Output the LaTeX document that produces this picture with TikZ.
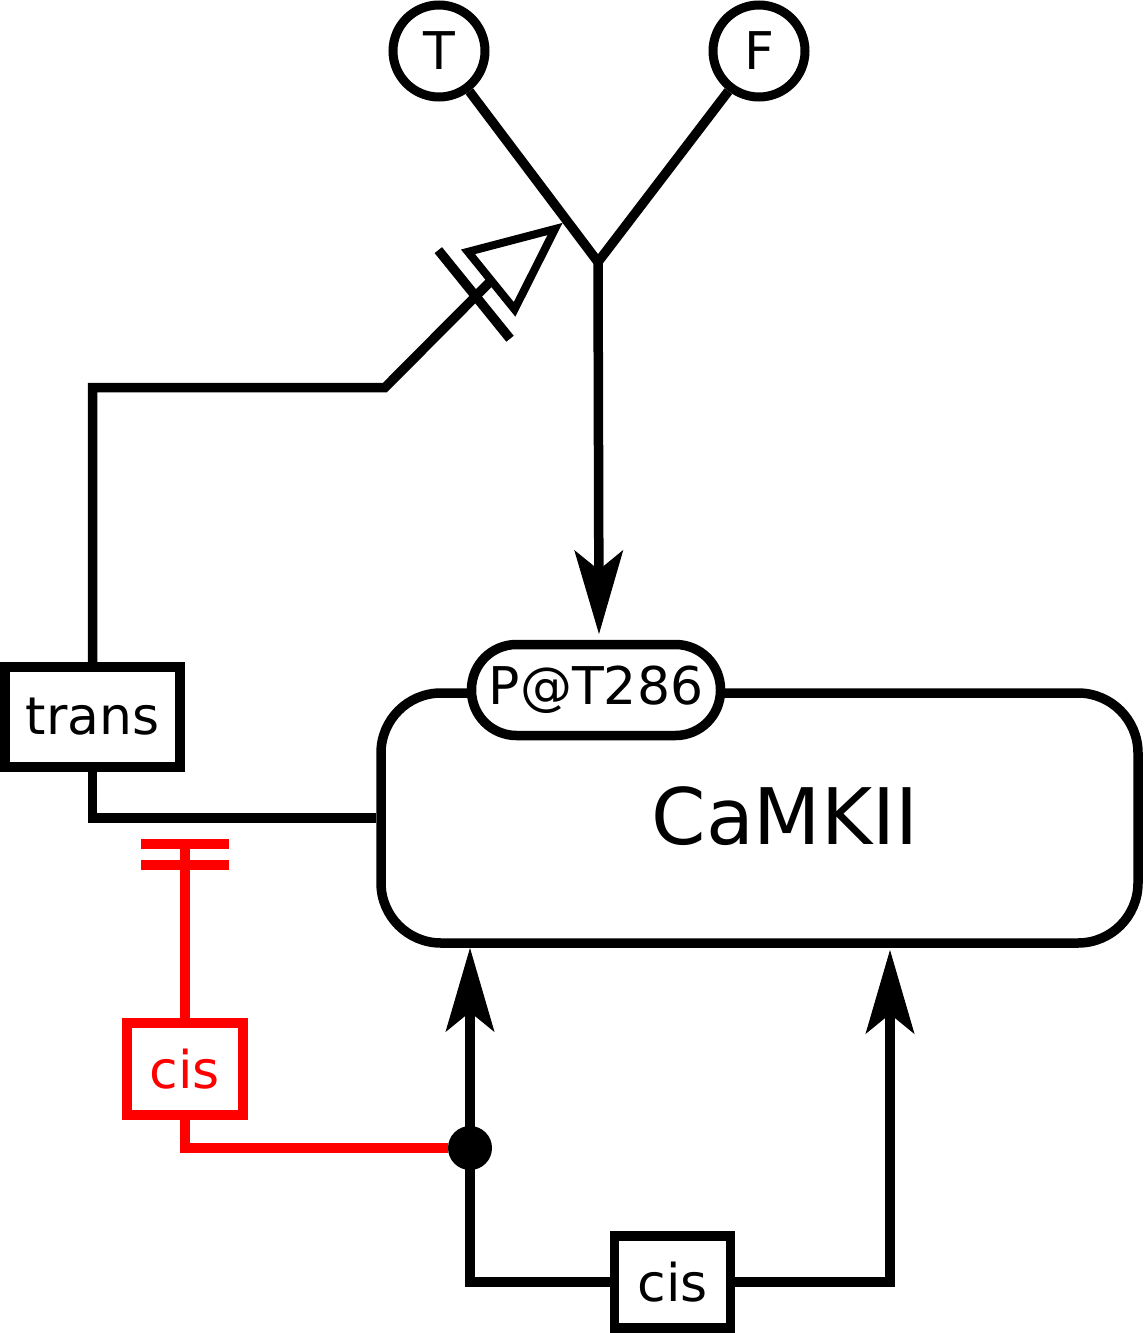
\documentclass[tikz,border=0pt]{standalone}
\usepackage{fontspec}
\setmainfont{DejaVu Sans}
\usetikzlibrary{arrows.meta,calc}
\begin{document}
\begin{tikzpicture}[x=1pt,y=-1pt, line width=9.5pt,
  boxst/.style={draw, fill=white, rectangle, inner sep=0pt},
  smalltext/.style={font=\fontsize{52}{60}\selectfont},
  tipst/.style={-{Stealth[length=84pt,width=49pt,inset=20pt,line width=1pt]}},
  statecirc/.style={circle, draw, fill=white, line width=9pt, minimum size=92pt, inner sep=0pt, smalltext},
]
\useasboundingbox (0,0) rectangle (1143,1333);

% entity pool node
\node[draw, fill=white, rounded corners=60pt, minimum width=757pt, minimum height=250pt, inner sep=0pt] (camk) at (759.5,818) {};
\node[font=\fontsize{78}{90}\selectfont] (camklab) at (785,816) {CaMKII};
\node[draw, fill=white, rounded corners=45pt, minimum width=249pt, minimum height=91pt, inner sep=0pt, smalltext] (pt) at (596,690) {P@T286};

% logic inputs
\node[statecirc] (T) at (439,51) {T};
\node[statecirc] (F) at (759,51) {F};
\coordinate (apex) at (598,262);
\coordinate (ptip) at (599,634);

% trans
\node[boxst, minimum width=175pt, minimum height=100pt, smalltext] (trans) at (92.5,717) {trans};
\coordinate (c1) at (92.5,387.5);
\coordinate (c2) at (385,387.5);
\coordinate (S) at (555,229);
\coordinate (nsdir) at ($(S)+(-77.7,62.9)$);
\coordinate (nsback) at ($(S)!82pt!(nsdir)$);
\coordinate (nsbar) at ($(S)!104pt!(nsdir)$);
\draw (trans.north) -- (c1) -- (c2) -- (nsback);
\draw[fill=white, line width=8pt] ($(nsback)!37pt!90:(S)$) -- (S) -- ($(nsback)!37pt!-90:(S)$) -- cycle;
\draw ($(nsbar)!57pt!90:(S)$) -- ($(nsbar)!57pt!-90:(S)$);
\draw (trans.south) |- (camk.west);

\draw (T) -- (apex) -- (F);
\draw[tipst] (apex) -- (ptip);

% red cis
\node[boxst, draw=red, text=red, minimum width=116pt, minimum height=92pt, smalltext] (rcis) at (185,1069) {cis};
\coordinate (rtop) at (185,844);
\draw[red] (rcis.north) -- (rtop);
\draw[red] ($(rtop)+(-44,0)$) -- ($(rtop)+(44,0)$);
\draw[red] ($(rtop)+(-44,21)$) -- ($(rtop)+(44,21)$);

% black cis
\node[boxst, minimum width=116pt, minimum height=92pt, smalltext] (bcis) at (672.5,1282) {cis};
\coordinate (ltip) at (470,948);
\coordinate (rtip) at (890,950);
\draw[tipst] (bcis.west) -| (ltip);
\draw[tipst] (bcis.east) -| (rtip);

\node[circle, fill=black, minimum size=44pt, inner sep=0pt, outer sep=0pt] (dot) at (470,1148) {};
\draw[red] (rcis.south) |- (dot);
\end{tikzpicture}
\end{document}
